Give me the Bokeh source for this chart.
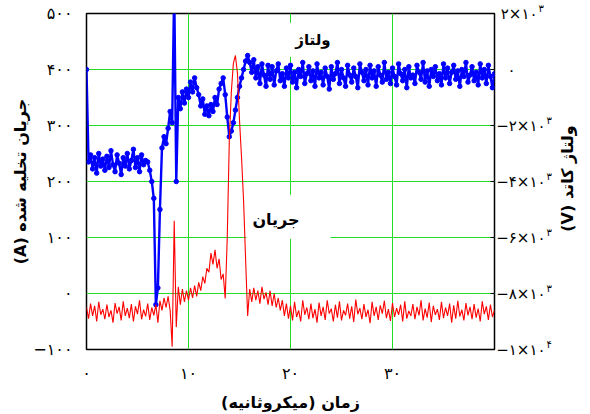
import math
import numpy as np
from bokeh.plotting import figure
from bokeh.layouts import row
from bokeh.models import Range1d, FixedTicker, Label, Plot
from bokeh.core.properties import value
from bokeh.embed import file_html
from bokeh.resources import INLINE

# ---------------- data ----------------
time_us = np.round(np.arange(201) * 0.2, 1)

current_A = [
    -25, -45, -18, -40, -22, -50, -15, -38, -28, -46,
    -20, -42, -30, -52, -17, -36, -24, -48, -14, -40,
    -26, -44, -19, -50, -23, -37, -12, -46, -29, -41,
    -18, -47, -25, -39, -20, -52, -13, -30, -8, -25,
    -5, -30, -95, 130, -60, 12, -20, 8, -15, 5,
    -12, 10, -8, 14, -5, 20, 5, 30, 18, 45,
    38, 72, 52, 78, 45, 62, 25, 35, -9, 100,
    273, 360, 411, 425, 393, 310, 243, 166, 60, -40,
    8, -15, 10, -12, 5, -18, 12, -10, 2, -20,
    5, -22, 0, -25, -8, -30, -12, -40, -18, -45,
    -22, -48, -15, -42, -30, -50, -12, -38, -25, -46,
    -18, -44, -28, -52, -16, -40, -24, -47, -12, -36,
    -27, -50, -20, -43, -14, -48, -30, -39, -18, -45,
    -23, -51, -11, -37, -26, -46, -19, -42, -29, -53,
    -15, -40, -24, -47, -21, -36, -13, -44, -28, -49,
    -17, -42, -26, -38, -20, -50, -14, -45, -31, -40,
    -19, -46, -24, -39, -12, -48, -27, -43, -16, -51,
    -22, -38, -28, -47, -15, -44, -25, -40, -18, -52,
    -21, -45, -13, -41, -29, -48, -17, -39, -24, -46,
    -19, -43, -27, -50, -14, -37, -23, -47, -20, -42,
    -30,
]

voltage_V = [
    0, -3300, -3050, -3550, -3150, -3700, -3000, -3450, -3200, -3600,
    -3100, -3500, -2900, -3400, -3650, -3050, -3350, -3750, -3150, -3450,
    -3000, -3550, -3250, -2850, -3500, -3150, -3650, -3050, -3400, -3250,
    -3300, -3600, -4000, -4600, -8400, -7800, -5000, -2800, -2400, -2650,
    -2100, -1500, -1900, 3000, -4000, -1000, -1400, -800, -1200, -700,
    -1000, -450, -800, -300, -650, -900, -1300, -1050, -1600, -1300,
    -1650, -1250, -1500, -1000, -1250, -700, -500, -300, -900, -1700,
    -2400, -2200, -1900, -1450, -1000, -600, -300, 0, 300, 500,
    250, -100, 350, -300, 100, -500, 200, -200, -600, 150,
    -350, 100, -550, -50, 200, -400, -150, -600, 50, -300,
    150, -450, -100, -650, 0, -250, 250, -500, -150, 100,
    -400, -50, -600, 200, -300, -100, -550, 50, -250, -700,
    100, -350, -150, 250, -500, 0, -300, -600, 150, -200,
    -450, 50, -250, -650, 200, -100, -400, 0, -550, 150,
    -300, -50, -600, 100, -200, -450, 250, -350, -100, -500,
    50, -250, -550, 200, -150, -400, 0, -650, 100, -300,
    -200, -500, 150, -100, -350, 250, -450, -50, -600, 0,
    -250, 100, -400, -150, -550, 200, -300, 50, -500, -100,
    150, -350, -50, -600, 0, -250, 250, -450, -200, 100,
    -400, -100, -550, 200, -300, 0, -500, 150, -250, -650,
    -150,
]

x_ticks = [0, 10, 20, 30]
x_tick_labels = ["۰", "۱۰", "۲۰", "۳۰"]
current_ticks = [-100, 0, 100, 200, 300, 400, 500]
current_tick_labels = ["−۱۰۰", "۰", "۱۰۰", "۲۰۰", "۳۰۰", "۴۰۰", "۵۰۰"]
voltage_ticks = [-10000, -8000, -6000, -4000, -2000, 0, 2000]
voltage_tick_base = ["−۱×۱۰", "−۸×۱۰", "−۶×۱۰", "−۴×۱۰", "−۲×۱۰", "۰", "۲×۱۰"]
voltage_tick_exp = ["۴", "۳", "۳", "۳", "۳", "", "۳"]

x_title = "زمان (میکروثانیه)"
current_title = "جریان تخلیه شده (A)"
voltage_title = "ولتاژ کاتد (V)"
current_note = "جریان"
voltage_note = "ولتاژ"

# ---------------- styling / layout ----------------
FONT = "DejaVu Sans"
GRID = "#22dd22"
W, H = 590, 414
LEFT, TOP, BOTTOM = 86, 13, 65
FRAME_W, FRAME_H = 408, 336
MAIN_W = LEFT + FRAME_W + 2          # main figure ends just right of the frame
SIDE_W = W - MAIN_W                  # strip holding the right-axis texts
X_LO, X_HI = 0, 40
V_LO, V_HI = -10000, 2000
V_PER_PX = (V_HI - V_LO) / FRAME_H
CAN_UNALIGN = "frame_align" in Plot.properties()


def rtl(s):
    return "\u202b" + s + "\u202c"


p = figure(width=MAIN_W, height=H, output_backend="svg", toolbar_location=None,
           x_range=Range1d(X_LO, X_HI), y_range=Range1d(-100, 500),
           min_border_left=LEFT, min_border_right=MAIN_W - LEFT - FRAME_W,
           min_border_top=TOP, min_border_bottom=BOTTOM,
           background_fill_color="white", border_fill_color="white")
p.outline_line_color = "black"
p.outline_line_width = 1.5
p.extra_y_ranges = {"v": Range1d(V_LO, V_HI)}


def style_axis(ax, size="16px"):
    ax.axis_line_color = None
    ax.major_tick_in = 0
    ax.major_tick_out = 0
    ax.minor_tick_line_color = None
    ax.major_label_text_font = FONT
    ax.major_label_text_font_size = size
    ax.major_label_text_color = "black"
    ax.axis_label_text_font = FONT
    ax.axis_label_text_font_size = "16px"
    ax.axis_label_text_font_style = "bold"
    ax.axis_label_text_color = "black"


xa = p.below[0]
xa.ticker = FixedTicker(ticks=x_ticks)
xa.major_label_overrides = dict(zip(x_ticks, x_tick_labels))
ya = p.left[0]
ya.ticker = FixedTicker(ticks=current_ticks)
ya.major_label_overrides = dict(zip(current_ticks, current_tick_labels))
for ax in (xa, ya):
    style_axis(ax)
    ax.major_label_standoff = 14
xa.axis_label = rtl(x_title)
xa.axis_label_standoff = 7
ya.axis_label = rtl(current_title)
ya.axis_label_standoff = 0

p.xgrid.grid_line_color = GRID
p.ygrid.grid_line_color = GRID
p.xgrid.grid_line_width = 1
p.ygrid.grid_line_width = 1

# inward tick marks of the right (voltage) scale, 4 px long
tick_len = 4 * (X_HI - X_LO) / FRAME_W
n_vt = len(voltage_ticks)
p.segment(x0=[X_HI - tick_len] * n_vt, y0=voltage_ticks, x1=[X_HI] * n_vt,
          y1=voltage_ticks, y_range_name="v", line_color="black", line_width=1)

# data
p.line(time_us, voltage_V, y_range_name="v", line_color="#0000ff", line_width=2.4)
p.scatter(time_us, voltage_V, y_range_name="v", marker="circle", size=4.5,
          fill_color="#0000ff", line_color="#0000ff")
p.line(time_us, current_A, line_color="#ff0000", line_width=1.1)

# in-plot annotations
p.add_layout(Label(x=22.2, y=453, text=rtl(voltage_note), text_align="center",
                   text_baseline="middle", text_font=FONT, text_font_size="15px",
                   text_font_style="bold", text_color="black",
                   background_fill_color="white", padding=8))
p.add_layout(Label(x=19.8, y=137, text=rtl(current_note), text_align="center",
                   text_baseline="middle", text_font=FONT, text_font_size="16px",
                   text_font_style="bold", text_color="black",
                   background_fill_color="white",
                   padding=dict(left=6, right=31, top=15, bottom=10)))

# ---------------- side strip: right-axis tick texts and title ----------------
if CAN_UNALIGN:
    side_range = Range1d(V_LO - BOTTOM * V_PER_PX, V_HI + TOP * V_PER_PX)
else:
    side_range = Range1d(V_LO, V_HI)
side = figure(width=SIDE_W, height=H, output_backend="svg", toolbar_location=None,
              x_range=Range1d(MAIN_W, W), y_range=side_range,
              min_border_left=0, min_border_right=0, min_border_top=0,
              min_border_bottom=0, x_axis_type=None, y_axis_type=None,
              background_fill_color="white", border_fill_color="white")
side.outline_line_color = None
side.grid.visible = False
if CAN_UNALIGN:
    p.frame_align = False
    side.frame_align = False

raise_v = 5 * V_PER_PX
mant_right = [(515 if not e else (545 if b.startswith("−") else 537))
              for b, e in zip(voltage_tick_base, voltage_tick_exp)]
side.text(x=mant_right, y=voltage_ticks, text=voltage_tick_base,
          text_align="right", text_baseline="middle", text_font=value(FONT),
          text_font_size="15px", text_color="black")
exp_items = [(m + 1, t + raise_v, e)
             for m, t, e in zip(mant_right, voltage_ticks, voltage_tick_exp) if e]
side.text(x=[a for a, _, _ in exp_items], y=[b for _, b, _ in exp_items],
          text=[c for _, _, c in exp_items], text_align="left", text_baseline="middle",
          text_font=value(FONT), text_font_size="10px", text_color="black")
side.text(x=[567], y=[V_HI - (178 - TOP) * V_PER_PX], text=[rtl(voltage_title)],
          angle=math.pi / 2, text_align="center", text_baseline="middle",
          text_font=value(FONT), text_font_size="16px", text_font_style="bold",
          text_color="black")

layout = row(p, side, spacing=0)
open("out.html", "w").write(file_html(layout, INLINE))
